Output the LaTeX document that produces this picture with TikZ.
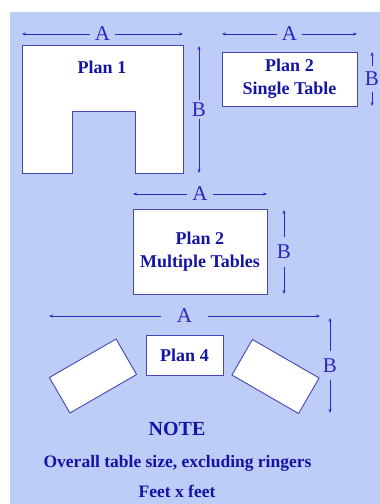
\documentclass[tikz,border=0pt]{standalone}
\usepackage{fontspec}
\setmainfont{Liberation Serif}
\usetikzlibrary{arrows.meta}
\definecolor{planBg}{RGB}{190,204,248}
\definecolor{planLine}{RGB}{70,70,180}
\definecolor{planText}{RGB}{20,20,165}
\definecolor{dimBlue}{RGB}{40,40,190}
\begin{document}
\begin{tikzpicture}[
            x=1pt, y=-1pt,
            tableNode/.style={rectangle, draw=planLine, fill=white, line width=0.9pt,
            inner sep=0pt, align=center, text=planText,
            font=\fontsize{18}{23}\selectfont\bfseries},
            planText/.style={text=planText, inner sep=0pt, align=center,
            font=\fontsize{18}{23}\selectfont\bfseries},
            dimArrow/.style={draw=dimBlue, line width=0.8pt,
            {Stealth[length=4pt,width=3pt]}-{Stealth[length=4pt,width=3pt]}},
            dimLabel/.style={fill=planBg, text=dimBlue, inner xsep=5pt, inner ysep=3pt,
            font=\fontsize{21}{21}\selectfont},
        ]
        \useasboundingbox (0,0) rectangle (380,504);
        \fill[planBg] (10,12) rectangle (380,504);

        % plan 1
        \draw[draw=planLine, fill=white, line width=0.9pt] (22,45) -- (183,45) -- (183,173) -- (135,173)
            -- (135,111) -- (72,111) -- (72,173) -- (22,173) -- cycle;
        \node[planText] (planOne) at (102,67) {Plan 1};
        \coordinate (planOneAw) at (22,34);
        \coordinate (planOneAe) at (183,34);
        \coordinate (planOneBn) at (199,46);
        \coordinate (planOneBs) at (199,173);
        \draw[dimArrow] (planOneAw) -- (planOneAe) node[midway, dimLabel] (planOneA) {A};
        \draw[dimArrow] (planOneBn) -- (planOneBs) node[midway, dimLabel, inner xsep=2pt] (planOneB) {B};

        % plan 2, single table
        \node[tableNode, minimum width=135pt, minimum height=54pt] (singleTable) at (289.5,79) {Plan 2\\Single Table};
        \coordinate (singleAw) at (222,34);
        \coordinate (singleAe) at (357,34);
        \coordinate (singleBn) at (372,52);
        \coordinate (singleBs) at (372,106);
        \draw[dimArrow] (singleAw) -- (singleAe) node[midway, dimLabel] (singleA) {A};
        \draw[dimArrow] (singleBn) -- (singleBs) node[midway, dimLabel, inner xsep=0.5pt, inner ysep=6pt] (singleB) {B};

        % plan 2, multiple tables
        \node[tableNode, minimum width=134pt, minimum height=85pt] (multiTable) at (200,251.5) {Plan 2\\Multiple Tables};
        \coordinate (multiAw) at (133,194);
        \coordinate (multiAe) at (267,194);
        \coordinate (multiBn) at (284,210);
        \coordinate (multiBs) at (284,294);
        \draw[dimArrow] (multiAw) -- (multiAe) node[midway, dimLabel] (multiA) {A};
        \draw[dimArrow] (multiBn) -- (multiBs) node[midway, dimLabel, inner xsep=2pt, inner ysep=8pt] (multiB) {B};

        % plan 4
        \node[tableNode, minimum width=77pt, minimum height=40pt] (planFour) at (184.5,355) {Plan 4};
        \node[tableNode, minimum width=77pt, minimum height=41pt, rotate=30] (leftTable) at (93,376) {};
        \node[tableNode, minimum width=77pt, minimum height=41pt, rotate=-30] (rightTable) at (275.5,376.5) {};
        \coordinate (planFourAw) at (49,316);
        \coordinate (planFourAe) at (320,316);
        \coordinate (planFourBn) at (330,318);
        \coordinate (planFourBs) at (330,413);
        \draw[dimArrow] (planFourAw) -- (planFourAe) node[midway, dimLabel, inner xsep=16pt] (planFourA) {A};
        \draw[dimArrow] (planFourBn) -- (planFourBs) node[midway, dimLabel, inner xsep=2pt, inner ysep=8pt] (planFourB) {B};

        % note
        \node[planText, font=\fontsize{20}{24}\selectfont\bfseries] (noteHead) at (177,429) {NOTE};
        \node[planText, font=\fontsize{17.5}{21}\selectfont\bfseries] (noteSize) at (177.5,463) {Overall table size, excluding ringers};
        \node[planText, font=\fontsize{17.5}{21}\selectfont\bfseries] (noteUnit) at (177,491) {Feet x feet};
    \end{tikzpicture}
\end{document}
